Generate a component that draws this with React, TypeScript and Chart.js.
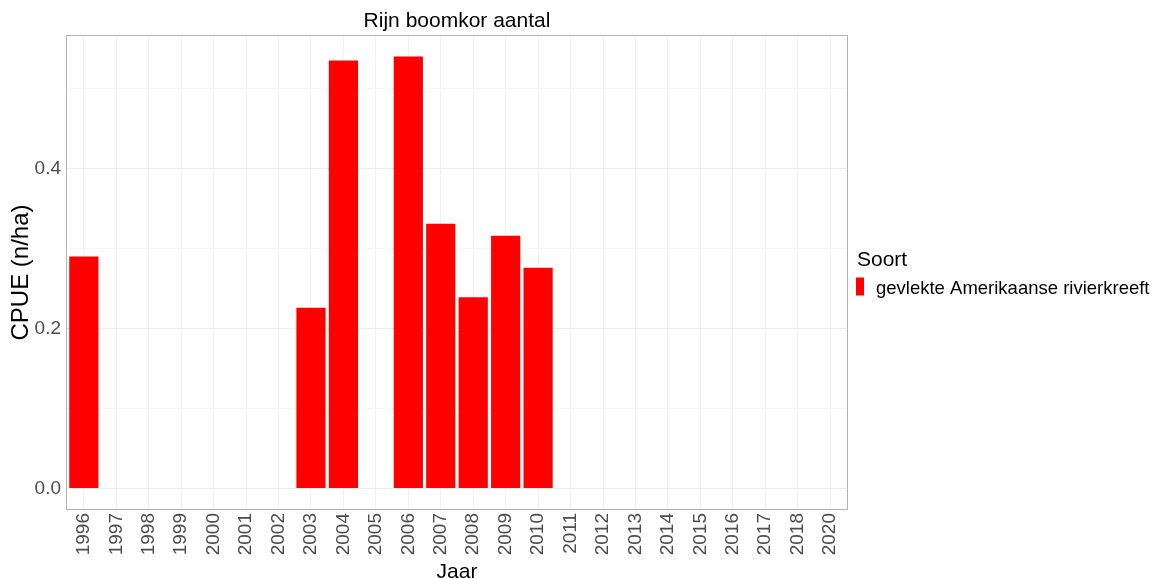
import React, { useEffect, useRef } from "react";
import { Chart, registerables } from "chart.js";

Chart.register(...registerables);

const years = [
  "1996", "1997", "1998", "1999", "2000", "2001", "2002", "2003", "2004", "2005",
  "2006", "2007", "2008", "2009", "2010", "2011", "2012", "2013", "2014", "2015",
  "2016", "2017", "2018", "2020",
];
const cpue: (number | null)[] = [
  0.29, null, null, null, null, null, null, 0.226, 0.535, null,
  0.54, 0.331, 0.239, 0.316, 0.276, null, null, null, null, null,
  null, null, null, null,
];
const yTicks = [0, 0.1, 0.2, 0.3, 0.4, 0.5];
const yLabelled = [0, 0.2, 0.4];
const seriesName = "gevlekte Amerikaanse rivierkreeft";
const legendTitle = "Soort";
const barColor = "#ff0000";

const FONT = "'Liberation Sans', Arial, sans-serif";

const borderPlugin = {
  id: "panelBorder",
  afterDraw(chart: any) {
    const { ctx, chartArea } = chart;
    ctx.save();
    ctx.strokeStyle = "#b3b3b3";
    ctx.lineWidth = 1;
    ctx.strokeRect(chartArea.left + 0.5, chartArea.top + 0.5, chartArea.right - chartArea.left - 1, chartArea.bottom - chartArea.top - 1);
    ctx.restore();
  },
};

// ggplot-style legend drawn to the right of the panel
const sideLegendPlugin = {
  id: "sideLegend",
  afterDraw(chart: any) {
    const { ctx, chartArea } = chart;
    const ds = chart.data.datasets[0];
    const x0 = chartArea.right + 9;
    const cy = (chartArea.top + chartArea.bottom) / 2;
    ctx.save();
    ctx.textBaseline = "middle";
    ctx.textAlign = "left";
    ctx.fillStyle = "#000000";
    ctx.font = `21px ${FONT}`;
    ctx.fillText(legendTitle, x0, cy - 12.5);
    ctx.fillStyle = ds.backgroundColor;
    ctx.fillRect(x0 - 1, cy + 5, 8, 18);
    ctx.fillStyle = "#000000";
    ctx.font = `18.5px ${FONT}`;
    ctx.fillText(ds.label, x0 + 19, cy + 16);
    ctx.restore();
  },
};

export default function App() {
  const ref = useRef<HTMLCanvasElement>(null);
  useEffect(() => {
    const canvas = ref.current;
    if (!canvas) return;
    const chart = new Chart(canvas, {
      type: "bar",
      data: {
        datasets: [
          {
            label: seriesName,
            data: cpue.map((v, i) => ({ x: i, y: v })) as any,
            backgroundColor: barColor,
            borderWidth: 0,
            barPercentage: 0.9,
            categoryPercentage: 1,
          },
        ],
      },
      plugins: [borderPlugin, sideLegendPlugin],
      options: {
        animation: false,
        responsive: false,
        maintainAspectRatio: false,
        layout: { padding: { left: 0, right: 306, top: 0, bottom: 0 } },
        plugins: {
          tooltip: { enabled: false },
          legend: { display: false },
          title: {
            display: true,
            text: "Rijn boomkor aantal",
            fullSize: false,
            color: "#000000",
            font: { family: FONT, size: 21, weight: "normal" },
            padding: { top: 8.4, bottom: 1.4 },
          },
        },
        scales: {
          x: {
            type: "linear",
            offset: false,
            min: -0.55,
            max: years.length - 1 + 0.55,
            afterBuildTicks: (scale: any) => {
              scale.ticks = years.map((_, i) => ({ value: i }));
            },
            afterFit: (scale: any) => {
              scale.height = 68;
            },
            ticks: {
              autoSkip: false,
              maxRotation: 90,
              minRotation: 90,
              padding: 3,
              color: "#4d4d4d",
              font: { family: FONT, size: 19 },
              callback: (v: any) => years[Math.round(Number(v))] ?? "",
            },
            grid: { color: "#f2f2f2", drawTicks: false, offset: false },
            border: { display: false },
            title: {
              display: true,
              text: "Jaar",
              color: "#000000",
              font: { family: FONT, size: 21, lineHeight: 0.57 },
              padding: { top: 0, bottom: 0 },
            },
          },
          y: {
            type: "linear",
            min: -0.027,
            max: 0.567,
            afterBuildTicks: (scale: any) => {
              scale.ticks = yTicks.map((v) => ({ value: v }));
            },
            afterFit: (scale: any) => {
              scale.width = 66;
            },
            ticks: {
              padding: 5,
              color: "#4d4d4d",
              font: { family: FONT, size: 19 },
              callback: (v: any) => (yLabelled.some((t) => Math.abs(t - Number(v)) < 1e-9) ? Number(v).toFixed(1) : ""),
            },
            grid: {
              drawTicks: false,
              color: (ctx: any) =>
                yLabelled.some((t) => Math.abs(t - ctx.tick?.value) < 1e-9) ? "#ededed" : "#f6f6f6",
            },
            border: { display: false },
            title: {
              display: true,
              text: "CPUE (n/ha)",
              color: "#000000",
              font: { family: FONT, size: 24 },
              padding: { top: 7, bottom: 0 },
            },
          },
        },
      } as any,
    });
    return () => chart.destroy();
  }, []);
  return (
    <div style={{ position: "fixed", left: 0, top: 0, width: 1154, height: 578, background: "#ffffff" }}>
      <canvas ref={ref} width={1154} height={578} style={{ width: 1154, height: 578 }} />
    </div>
  );
}
